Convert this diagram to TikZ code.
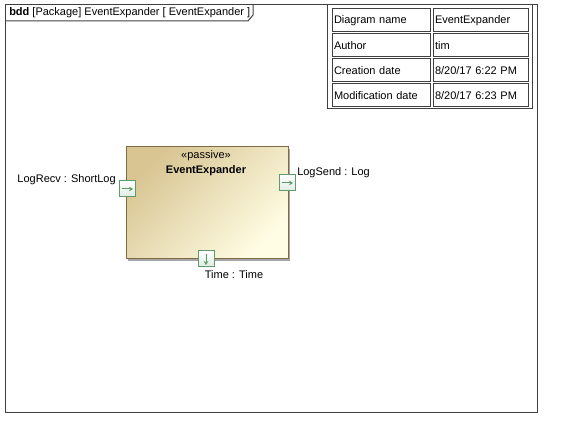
\documentclass[tikz,border=0pt]{standalone}
\usepackage{fontspec}
\setmainfont{Liberation Sans}
\usepackage{tikz}
\usetikzlibrary{arrows.meta, positioning, shadows}

\definecolor{framegray}{HTML}{404040}
\definecolor{blocktan}{HTML}{D8C592}
\definecolor{blockcream}{HTML}{FFFDE4}
\definecolor{blockline}{HTML}{806A48}
\definecolor{portgreen}{HTML}{5E9A6C}
\definecolor{portfill}{HTML}{E4F0E6}

\begin{document}
\begin{tikzpicture}[
		x=0.75pt, y=-0.75pt,
		node distance=1.5pt and 2.25pt,
		every node/.style={font=\fontsize{8.25}{10}\selectfont},
		cell/.style={draw=framegray, line width=0.75pt, outer sep=0pt, minimum height=17.25pt, inner xsep=1.5pt, align=left},
		port/.style={draw=portgreen, line width=0.75pt, minimum size=12pt, inner sep=0pt,
			top color=white, bottom color=portfill!80!portgreen!60},
		portarrow/.style={draw=portgreen, line width=0.75pt, -{Stealth[length=3pt, width=3.5pt]}}
		]
		\useasboundingbox (0,0) rectangle (562,438);
		% frame and tab
		\draw[framegray, line width=0.75pt] (5,5) rectangle (537,413);
		\draw[framegray, line width=0.75pt] (5,21) -- (248,21) -- (253,15) -- (253,5);
		\node[anchor=west, inner sep=0pt] (title) at (9,13) {\textbf{bdd} [Package] EventExpander [ EventExpander ]};
		% info table
		\draw[framegray, line width=0.75pt] (327,5) rectangle (532,109);
		\node[cell, text width=70.5pt] (name) at (381,20.5) {Diagram name};
		\node[cell, text width=68.25pt, right=of name] (nameval) {EventExpander};
		\node[cell, text width=70.5pt, below=of name] (author) {Author};
		\node[cell, text width=68.25pt, right=of author] (authorval) {tim};
		\node[cell, text width=70.5pt, below=of author] (created) {Creation date};
		\node[cell, text width=68.25pt, right=of created] (createdval) {8/20/17 6:22 PM};
		\node[cell, text width=70.5pt, below=of created] (modified) {Modification date};
		\node[cell, text width=68.25pt, right=of modified] (modifiedval) {8/20/17 6:23 PM};
		% block
		\node[draw=blockline, line width=0.75pt, minimum width=121.5pt, minimum height=84pt,
			top color=blocktan, bottom color=blockcream, shading angle=45,
			drop shadow={shadow xshift=1.5pt, shadow yshift=-1.5pt, fill=black!35, opacity=1}] (block) at (207,203) {};
		\node (stereo) at (206,156) {«passive»};
		\node[font=\fontsize{8.25}{10}\selectfont\bfseries] (blockname) at (206,171) {EventExpander};
		% ports
		\node[port] (recv) at (127,189) {};
		\node[port] (send) at (287,183) {};
		\node[port] (time) at (206,259) {};
		\draw[portarrow] ([xshift=-4pt]recv.center) -- ([xshift=4.5pt]recv.center);
		\draw[portarrow] ([xshift=-4pt]send.center) -- ([xshift=4.5pt]send.center);
		\draw[portarrow] ([yshift=4pt]time.center) -- ([yshift=-4.5pt]time.center);
		\node[anchor=east, inner sep=0pt] (recvlabel) at (116,180) {LogRecv : ShortLog};
		\node[anchor=west, inner sep=0pt] (sendlabel) at (297,173) {LogSend : Log};
		\node[inner sep=0pt] (timelabel) at (234,275) {Time : Time};
	\end{tikzpicture}
\end{document}
